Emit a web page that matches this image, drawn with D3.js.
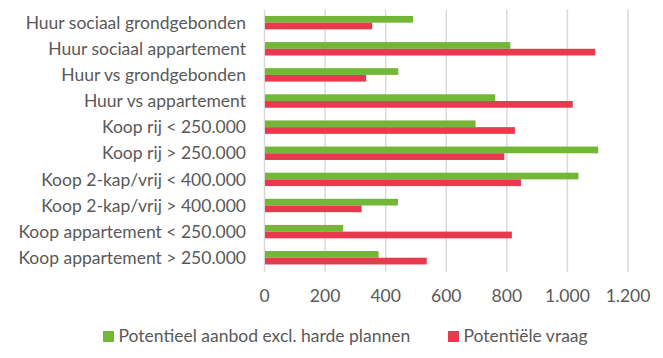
<!DOCTYPE html>
<html><head><meta charset="utf-8">
<script src="https://cdn.jsdelivr.net/npm/d3@7"></script>
<style>body{margin:0;background:#fff}svg{display:block}</style>
</head><body><svg id="c" width="663" height="358"></svg>
<script>
const categories = ["Huur sociaal grondgebonden","Huur sociaal appartement","Huur vs grondgebonden","Huur vs appartement","Koop rij < 250.000","Koop rij > 250.000","Koop 2-kap/vrij < 400.000","Koop 2-kap/vrij > 400.000","Koop appartement < 250.000","Koop appartement > 250.000"];
const aanbod = [489,810,440,760,695,1100,1035,439,258,375];
const vraag = [354,1090,334,1016,825,790,845,319,815,534];
const seriesNames = ["Potentieel aanbod excl. harde plannen","Potentiële vraag"];
const tickValues = [0,200,400,600,800,1000,1200];
const tickLabels = ["0","200","400","600","800","1.000","1.200"];
const colors = ["#72b736","#e8394f"];

(function(){
const svg = d3.select("#c");
const font = "Lato, 'Open Sans', sans-serif";
const fs = 17.5;
const pl = 264.5, pr = 628, pt = 9.6, pb = 270.8;
const x = d3.scaleLinear().domain([0,1200]).range([pl,pr]);
const y = d3.scaleBand().domain(categories).range([pt,pb]).paddingInner(0.486).paddingOuter(0.243);
const sub = d3.scaleBand().domain([0,1]).range([0,y.bandwidth()]);

svg.append("g").selectAll("line").data(tickValues).join("line")
  .attr("x1",d=>x(d)).attr("x2",d=>x(d)).attr("y1",pt).attr("y2",pb+1)
  .attr("stroke","#d9d9d9").attr("stroke-width",1.5);

const data = categories.map((c,i)=>({c, v:[aanbod[i],vraag[i]]}));
const g = svg.append("g");
data.forEach(d=>{
  d.v.forEach((v,j)=>{
    g.append("rect").attr("x",x(0)+0.5).attr("y",y(d.c)+sub(j))
      .attr("width",x(v)-x(0)).attr("height",sub.bandwidth())
      .attr("fill",colors[j]);
  });
});

svg.append("g").selectAll("text").data(categories).join("text")
  .attr("x",246).attr("y",d=>y(d)+y.bandwidth()/2).attr("dy","0.35em")
  .attr("text-anchor","end").attr("font-family",font).attr("font-size",fs)
  .attr("fill","#595959").text(d=>d);

svg.append("g").selectAll("text").data(tickValues).join("text")
  .attr("x",d=>x(d)).attr("y",296).attr("dy","0.35em").attr("text-anchor","middle")
  .attr("font-family",font).attr("font-size",fs).attr("fill","#595959")
  .text((d,i)=>tickLabels[i]);

const lg = svg.append("g");
const legX = [103,448];
seriesNames.forEach((s,i)=>{
  lg.append("rect").attr("x",legX[i]).attr("y",331).attr("width",11).attr("height",11).attr("fill",colors[i]);
  lg.append("text").attr("x",legX[i]+15.5).attr("y",336).attr("dy","0.35em")
    .attr("font-family",font).attr("font-size",fs).attr("fill","#595959").text(s);
});
})();
</script></body></html>
